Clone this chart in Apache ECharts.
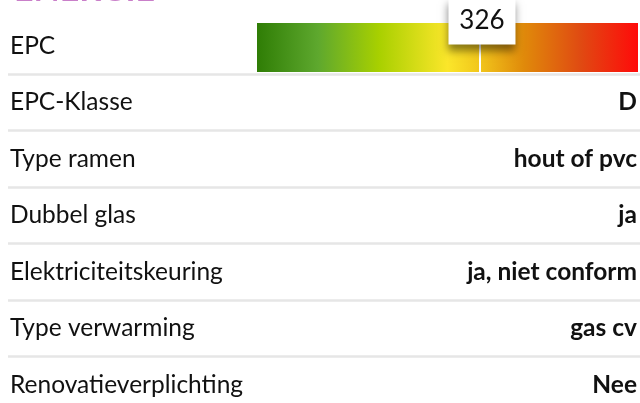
<!DOCTYPE html>
<html><head><meta charset="utf-8">
<script src="https://cdn.jsdelivr.net/npm/echarts@6/dist/echarts.min.js"></script>
<style>html,body{margin:0;padding:0;background:#fff}#c{width:640px;height:403px}</style>
</head><body><div id="c"></div>
<script>
var rowLabels = ['EPC','EPC-Klasse','Type ramen','Dubbel glas','Elektriciteitskeuring','Type verwarming','Renovatieverplichting'];
var rowValues = ['', 'D', 'hout of pvc', 'ja', 'ja, niet conform', 'gas cv', 'Nee'];
var epcValue = 326;
var epcScaleMax = 557;
var titleText = 'ENERGIE';

var chart = echarts.init(document.getElementById('c'), null, {renderer:'canvas'});
var font = 'Lato';
chart.setOption({
  animation:false,
  title:{text:titleText,left:9,top:-32,textStyle:{fontFamily:font,fontSize:34,fontWeight:'bold',color:'#c97fc9'}},
  grid:[
    {left:8,right:0,top:17.5,bottom:-10,outerBoundsMode:'none'},
    {left:257,width:381,top:23,height:49,outerBoundsMode:'none'}
  ],
  xAxis:[
    {gridIndex:0,type:'value',show:false,min:0,max:1},
    {gridIndex:1,type:'value',show:false,min:0,max:epcScaleMax}
  ],
  yAxis:[
    {gridIndex:0,type:'category',data:rowLabels,inverse:true,position:'left',
     axisLine:{show:false},axisTick:{show:false},
     axisLabel:{inside:true,margin:2,fontFamily:font,fontSize:24.5,color:'#111'},
     splitLine:{show:true,interval:function(i){return i!==0;},lineStyle:{color:'#e6e6e6',width:2.5}}},
    {gridIndex:0,type:'category',data:rowValues,inverse:true,position:'right',
     axisLine:{show:false},axisTick:{show:false},splitLine:{show:false},
     axisLabel:{inside:true,margin:3,fontFamily:font,fontSize:24.5,fontWeight:'bold',color:'#111'}},
    {gridIndex:1,type:'category',data:['EPC'],show:false}
  ],
  series:[{
    type:'bar',xAxisIndex:1,yAxisIndex:2,data:[epcScaleMax],barWidth:'100%',silent:true,
    itemStyle:{color:new echarts.graphic.LinearGradient(0,0,1,0,[
      {offset:0,color:'#2f7d05'},
      {offset:0.16,color:'#5ea82e'},
      {offset:0.32,color:'#a8d000'},
      {offset:0.5,color:'#fbe62a'},
      {offset:0.58,color:'#f2c81c'},
      {offset:0.7,color:'#e08a0a'},
      {offset:0.85,color:'#e04a12'},
      {offset:1,color:'#ff0a0a'}
    ])},
    markLine:{silent:true,symbol:'none',animation:false,
      lineStyle:{color:'#fff',width:2,type:'solid'},
      label:{show:true,position:'end',distance:-20,formatter:String(epcValue),
        fontFamily:font,fontSize:26,color:'#111',backgroundColor:'#fff',
        width:67,height:47,align:'center',verticalAlign:'middle',lineHeight:47,offset:[2,-22],
        shadowColor:'rgba(0,0,0,0.45)',shadowBlur:8,shadowOffsetY:6},
      data:[{xAxis:epcValue}]}
  }]
});
</script></body></html>
